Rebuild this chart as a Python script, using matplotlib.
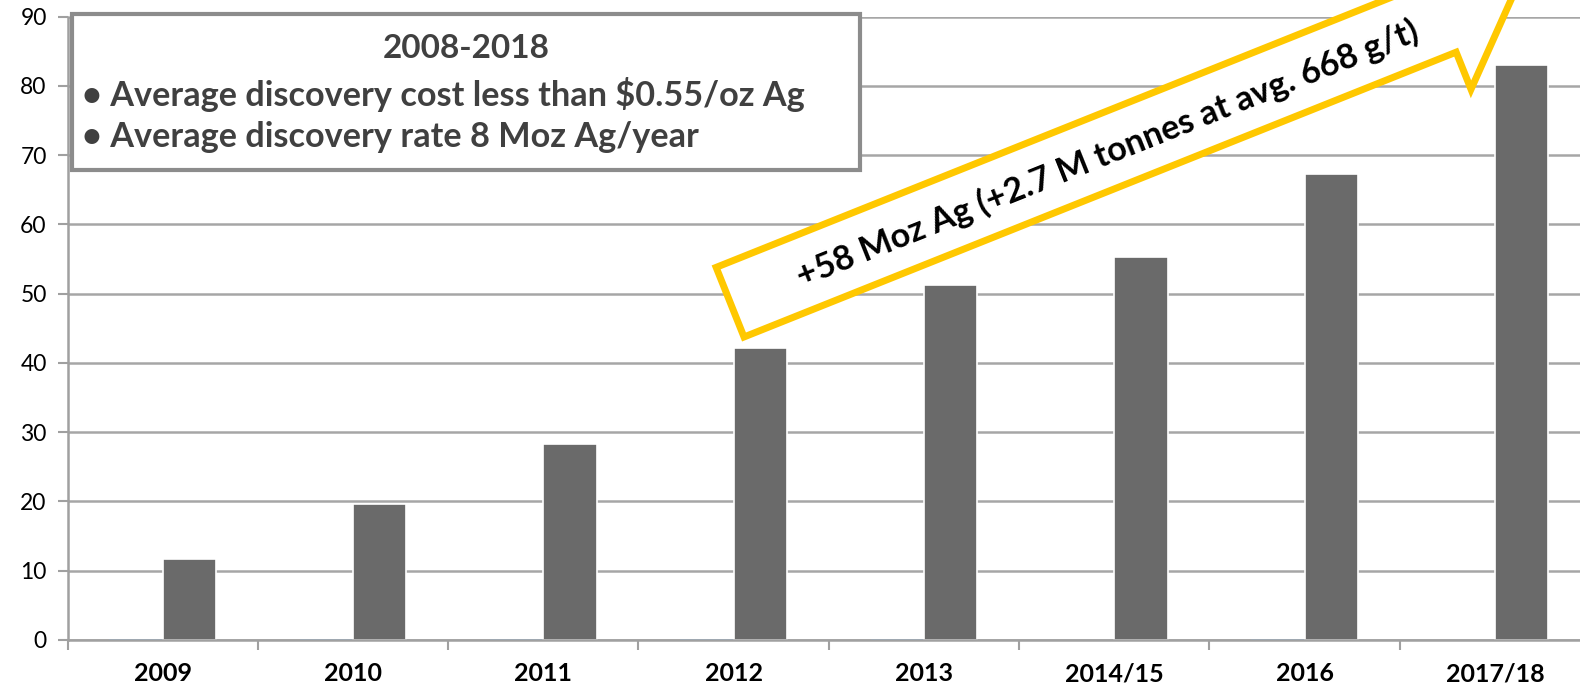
import numpy as np
import matplotlib
matplotlib.use("Agg")
import matplotlib.pyplot as plt
from matplotlib.patches import Polygon, Rectangle

plt.rcParams['font.family'] = ['Lato', 'DejaVu Sans']

# data
years = ['2009', '2010', '2011', '2012', '2013', '2014/15', '2016', '2017/18']
moz_ag = [11.7, 19.7, 28.3, 42.2, 51.2, 55.3, 67.3, 83.0]
other = [0.2, 0.2, 0.2, 0.2, 0.2, 0.0, 0.2, 0.0]   # almost-zero light blue series

box_title = '2008-2018'
box_lines = ['• Average discovery cost less than $0.55/oz Ag',
             '• Average discovery rate 8 Moz Ag/year']
callout_text = '+58 Moz Ag (+2.7 M tonnes at avg. 668 g/t)'

W, H = 1580, 690
fig = plt.figure(figsize=(W / 100, H / 100), dpi=100)
ax = fig.add_axes([67.5 / W, 1 - 640 / H, (1590 - 67.5) / W, (640 - 16.7) / H])

def px(x, y):
    # pixel coords (origin top-left) -> figure fraction
    return (x / W, 1 - y / H)

x = np.arange(len(years))
bw = 0.28
ax.bar(x - bw / 2, other, width=bw, color='#9dc3e6', zorder=2)
ax.bar(x + bw / 2, moz_ag, width=bw, color='#6a6a6a', edgecolor='white', linewidth=1.2, zorder=2)

ax.set_xlim(-0.5, len(years) - 0.5)
ax.set_ylim(0, 90)
ax.set_yticks(np.arange(0, 91, 10))
ax.yaxis.grid(True, color='#a6a6a6', linewidth=1.8, zorder=0)
ax.set_axisbelow(True)

ax.set_xticks(x)
ax.set_xticklabels(years, fontsize=18, fontweight='bold', color='black')
ax.set_xticks(np.arange(-0.5, len(years) + 0.5, 1), minor=True)
ax.tick_params(axis='x', which='major', length=0, pad=16)
ax.tick_params(axis='x', which='minor', length=7, width=1.5, color='#a0a0a0')
ax.tick_params(axis='y', length=7, width=1.5, color='#a0a0a0', labelsize=16.5, pad=8)

for side in ['top', 'right']:
    ax.spines[side].set_visible(False)
for side in ['left', 'bottom']:
    ax.spines[side].set_color('#a0a0a0')
    ax.spines[side].set_linewidth(1.8)

# text box
bx0, by0 = px(71.5, 170)
bx1, by1 = px(860, 14)
fig.patches.append(Rectangle((bx0, by0), bx1 - bx0, by1 - by0, transform=fig.transFigure,
                             facecolor='white', edgecolor='#8c8c8c', linewidth=3, zorder=5))
fig.text(*px(466, 48), box_title, ha='center', va='center', fontsize=24,
         fontweight='bold', color='#404040', zorder=6)
for i, line in enumerate(box_lines):
    fig.text(*px(82, 95 + 42 * i), line, ha='left', va='center', fontsize=24.7,
             fontweight='bold', color='#404040', zorder=6)

# rotated arrow callout
ang = np.deg2rad(21.8)
p0 = np.array([744.0, 337.0])
u = np.array([np.cos(ang), -np.sin(ang)])
v = np.array([-np.sin(ang), -np.cos(ang)])
L, Wd, b, tip = 767, 75, 40, 847
local = [(0, 0), (L, 0), (L, -b), (tip, Wd / 2), (L, Wd + b), (L, Wd), (0, Wd)]
verts = [px(*(p0 + s * u + n * v)) for s, n in local]
fig.patches.append(Polygon(verts, closed=True, transform=fig.transFigure,
                           facecolor='white', edgecolor='#ffc800', linewidth=5,
                           joinstyle='miter', zorder=5))
tc = p0 + 405 * u + 35 * v
fig.text(*px(*tc), callout_text, ha='center', va='center', rotation=21.8,
         rotation_mode='anchor', fontsize=24.7, fontweight='bold', color='black', zorder=6)

fig.savefig('out.png', dpi=100)
